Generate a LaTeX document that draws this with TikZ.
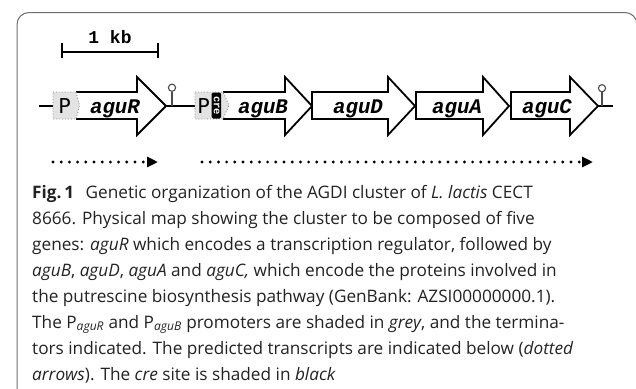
\documentclass[tikz,border=0pt]{standalone}
\usepackage{fontspec}
\setmainfont{Open Sans}
\newfontfamily\genefont{Liberation Mono}
\newfontfamily\pfont{DejaVu Sans}
\usetikzlibrary{arrows.meta}
\definecolor{captxt}{HTML}{222222}
\definecolor{framec}{HTML}{6E6E6E}
\definecolor{pgrey}{HTML}{E3E3E3}
\begin{document}
\begin{tikzpicture}[x=1pt,y=-1pt,
  gene/.style={draw=black,line width=1.8pt,line join=miter,miter limit=10,fill=white},
  geneopen/.style={draw=black,line width=1.8pt,line join=miter,miter limit=10},
  pbox/.style={fill=pgrey,draw=gray,dotted,line width=0.9pt},
  backbone/.style={line width=2.7pt,black},
  termstem/.style={line width=1.1pt,draw=gray!60!black},
  genelabel/.style={font=\genefont\bfseries\itshape\fontsize{20.8}{20.8}\selectfont,anchor=base,inner sep=0pt},
  plabel/.style={font=\pfont\fontsize{20.5}{20.5}\selectfont,anchor=base,inner sep=0pt},
  transcript/.style={line width=3.2pt,dash pattern=on 0pt off 8.2pt,line cap=round,
     -{Triangle[length=11pt,width=10pt]}},
  capline/.style={anchor=base west,inner sep=0pt,text=captxt,font=\fontsize{17.2}{19}\selectfont}
]
\useasboundingbox (0,0) rectangle (636,388);
% frame
\draw[framec,line width=1pt,rounded corners=12pt] (17,392) -- (17,12.5) -- (637,12.5) -- (637,392);

% scale bar
\coordinate (sbL) at (62,52);
\coordinate (sbR) at (158,52);
\draw[line width=2pt] (sbL) -- (sbR);
\draw[line width=2pt] ([yshift=-6pt]sbL) -- ([yshift=9pt]sbL);
\draw[line width=2pt] ([yshift=-6pt]sbR) -- ([yshift=9pt]sbR);
\node[font=\genefont\bfseries\fontsize{18}{18}\selectfont,anchor=base,inner sep=0pt] (kb) at (110,43) {1 kb};

% coordinates of the backbone
\coordinate (bbL) at (39,106);
\coordinate (pRL) at (53,106);
\coordinate (aguRtip) at (166,106);
\coordinate (pBL) at (195,106);
\coordinate (aguCtip) at (598,106);
\coordinate (bbR) at (613,106);

\draw[backbone] (bbL) -- (pRL);
\draw[backbone] (aguRtip) -- (pBL);
\draw[backbone] (aguCtip) -- (bbR);

% aguR
\fill[white] (76,92) -- (137,92) -- (137,77) -- (166,106) -- (137,135) -- (137,119) -- (76,119) -- (79.5,105.5) -- cycle;
\draw[geneopen] (76,92) -- (137,92) -- (137,77) -- (166,106) -- (137,135) -- (137,119) -- (76,119);
\draw[pbox] (53,92) -- (76,92) -- (79.5,105.5) -- (76,119) -- (53,119) -- cycle;
\node[plabel] (PR) at (64.5,113.5) {P};
\node[genelabel] (aguR) at (115,113) {aguR};

% aguB
\fill[white] (223,92) -- (285,92) -- (285,77) -- (312,106) -- (285,135) -- (285,119) -- (223,119) -- (229,105.5) -- cycle;
\draw[geneopen] (223,92) -- (285,92) -- (285,77) -- (312,106) -- (285,135) -- (285,119) -- (223,119);
\draw[pbox] (195,92) -- (223,92) -- (229,105.5) -- (223,119) -- (195,119) -- cycle;
\node[plabel] (PB) at (203.5,113.5) {P};
\fill[black,rounded corners=1.5pt] (211.5,92.5) rectangle (221,118.5);
\node[font=\genefont\bfseries\fontsize{10.5}{10.5}\selectfont,text=white,rotate=-90,inner sep=0pt] (cre) at (216.6,105.5) {cre};
\node[genelabel] (aguB) at (263,113) {aguB};

% aguD, aguA, aguC
\draw[gene] (312,92) -- (388,92) -- (388,77) -- (415,106) -- (388,135) -- (388,119) -- (312,119) -- cycle;
\node[genelabel] (aguD) at (358,113) {aguD};
\draw[gene] (416,92) -- (483,92) -- (483,77) -- (509,106) -- (483,135) -- (483,119) -- (416,119) -- cycle;
\node[genelabel] (aguA) at (457,113) {aguA};
\draw[gene] (511,92) -- (570,92) -- (570,77) -- (598,106) -- (570,135) -- (570,119) -- (511,119) -- cycle;
\node[genelabel] (aguC) at (547,113) {aguC};

% terminators
\coordinate (t1b) at (172,106);
\coordinate (t1t) at (172,91.5);
\draw[termstem] (t1b) -- (t1t);
\draw[termstem,fill=white] (172,87.7) circle (3.6);
\coordinate (t2b) at (602,106);
\coordinate (t2t) at (602,92);
\draw[termstem] (t2b) -- (t2t);
\draw[termstem,fill=white] (602,88.2) circle (3.6);

% transcripts
\coordinate (tr1s) at (53,162);
\coordinate (tr1e) at (158,162);
\coordinate (tr2s) at (202,162);
\coordinate (tr2e) at (593,162);
\draw[transcript] (tr1s) -- (tr1e);
\draw[transcript] (tr2s) -- (tr2e);

% caption
\node[capline] (c1) at (32,198) {\textbf{Fig.\,1}\hspace{7pt} Genetic organization of the AGDI cluster of \textit{L. lactis} CECT};
\node[capline] (c2) at (32,224) {8666. Physical map showing the cluster to be composed of five};
\node[capline] (c3) at (32,250) {genes: \textit{aguR} which encodes a transcription regulator, followed by};
\node[capline] (c4) at (32,276) {\textit{aguB}, \textit{aguD}, \textit{aguA} and \textit{aguC,} which encode the proteins involved in};
\node[capline] (c5) at (32,302) {the putrescine biosynthesis pathway (GenBank: AZSI00000000.1).};
\node[capline] (c6) at (32,328) {The P\textsubscript{\textit{aguR}} and P\textsubscript{\textit{aguB}} promoters are shaded in \textit{grey}, and the termina-};
\node[capline] (c7) at (32,354) {tors indicated. The predicted transcripts are indicated below (\textit{dotted}};
\node[capline] (c8) at (32,380) {\textit{arrows}). The \textit{cre} site is shaded in \textit{black}};
\end{tikzpicture}
\end{document}
